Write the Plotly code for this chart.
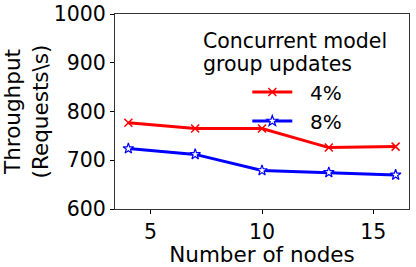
import plotly.graph_objects as go

nodes = [4, 7, 10, 13, 16]
thr_4 = [777, 765, 765, 726, 728]
thr_8 = [724, 712, 679, 675, 670]
series_names = ["4%", "8%"]
legend_title_lines = ["Concurrent model", "group updates"]
x_ticks = [5, 10, 15]
y_ticks = [600, 700, 800, 900, 1000]

FONT = "DejaVu Sans"
NBSP = "\u00a0"

fig = go.Figure()
fig.add_trace(go.Scatter(
    x=nodes, y=thr_4, name=NBSP * 2 + series_names[0], mode="lines+markers",
    line=dict(color="red", width=3),
    marker=dict(symbol="x-thin", size=8, color="red", line=dict(color="red", width=1.5)),
))
fig.add_trace(go.Scatter(
    x=nodes, y=thr_8, name=NBSP * 2 + series_names[1], mode="lines+markers",
    line=dict(color="blue", width=3),
    marker=dict(symbol="star", size=8, color="white", line=dict(color="blue", width=1.2)),
))

for line_text, ypos in zip(legend_title_lines, [0.862, 0.745]):
    fig.add_annotation(
        text=line_text, xref="paper", yref="paper",
        x=0.294, y=ypos, xanchor="left", yanchor="middle", align="left",
        showarrow=False, font=dict(family=FONT, size=20.5, color="black"),
    )

fig.update_layout(
    width=416, height=267,
    margin=dict(l=115, r=7, t=14, b=58),
    paper_bgcolor="white", plot_bgcolor="white",
    font=dict(family=FONT, size=20, color="black"),
    showlegend=True,
    legend=dict(x=0.45, y=0.70, xanchor="left", yanchor="top",
                bgcolor="rgba(0,0,0,0)", font=dict(family=FONT, size=20, color="black"),
                itemwidth=40, tracegroupgap=0),
    xaxis=dict(
        range=[3.4, 16.6], tickvals=x_ticks, ticks="outside", ticklen=4,
        tickcolor="black", showline=True, linecolor="#333", linewidth=1,
        mirror=True, showgrid=False, zeroline=False, automargin=False,
        title=dict(text="Number of nodes", standoff=2, font=dict(size=21.5)),
        tickfont=dict(size=20.5),
    ),
    yaxis=dict(
        range=[600, 1000], tickvals=y_ticks, ticks="outside", ticklen=4,
        tickcolor="black", showline=True, linecolor="#333", linewidth=1,
        mirror=True, showgrid=False, zeroline=False, automargin=False,
        title=dict(text="Throughput<br>(Requests\\s)", standoff=0, font=dict(size=21.5)),
        tickfont=dict(size=20.5),
    ),
)

fig.write_html(
    "out.html",
    config={"displayModeBar": False},
    post_script="document.body.style.margin='0';document.body.style.overflow='hidden';",
)
